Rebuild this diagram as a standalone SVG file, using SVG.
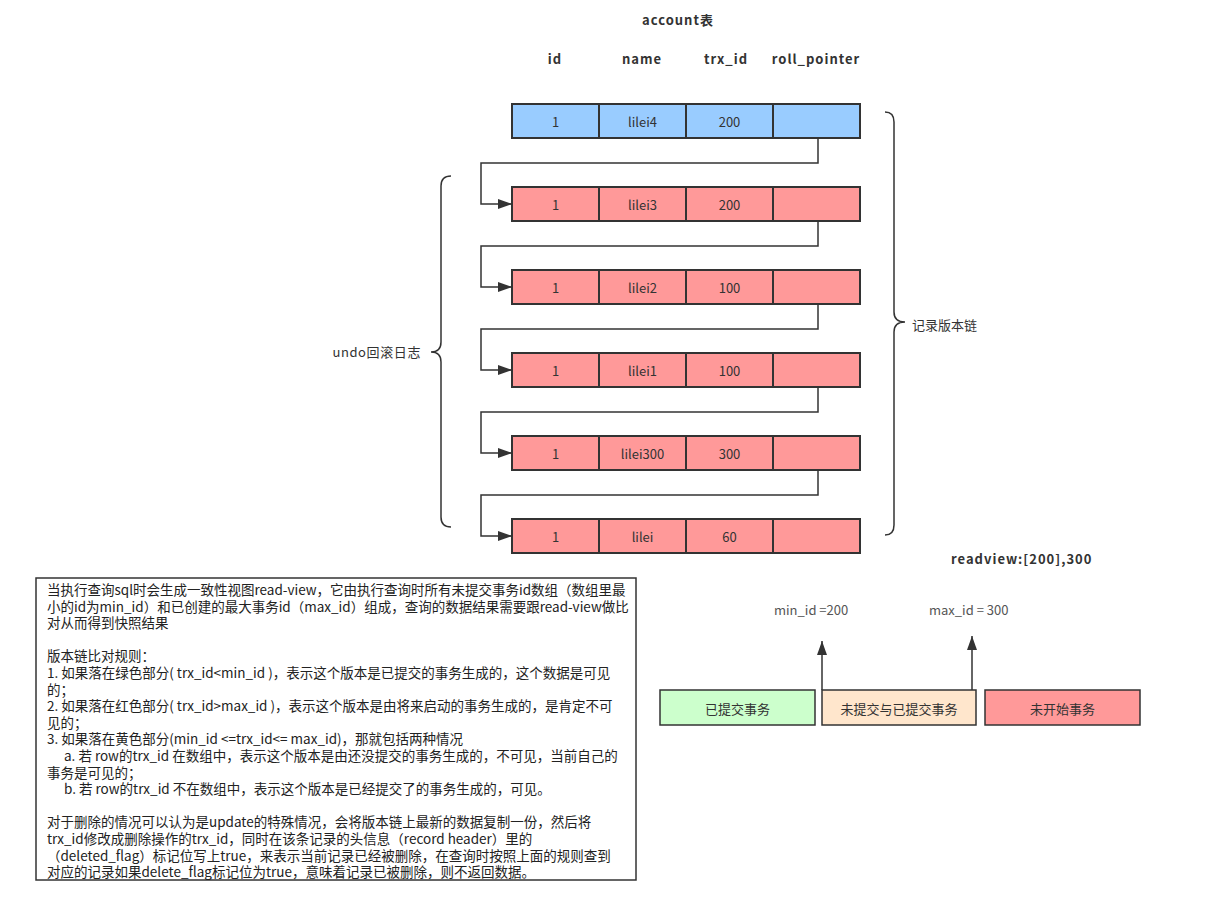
<svg xmlns="http://www.w3.org/2000/svg" width="1215" height="897" viewBox="0 0 1215 897">
<style>
.t{font-family:"Noto Sans CJK SC","Liberation Sans",sans-serif;font-size:13px;fill:#333;}
.c{text-anchor:middle;dominant-baseline:central;}
.b{font-weight:bold;letter-spacing:1px;}
.cell{stroke:#333;stroke-width:2;}
.blue{fill:#99ccff;}
.red{fill:#ff9999;}
.ln{fill:none;stroke:#333;stroke-width:1.5;}
.br{fill:none;stroke:#333;stroke-width:1.5;}
.note{font-size:13.5px;fill:#222;}
</style>
<defs>
<marker id="ah" viewBox="0 0 14 10" refX="14" refY="5" markerWidth="14" markerHeight="10" markerUnits="userSpaceOnUse" orient="auto">
<path d="M0,0 L14,5 L0,10 Z" fill="#333"/>
</marker>
</defs>
<rect width="1215" height="897" fill="#fff"/>

<g id="title">
<text class="t c b" x="678" y="19">account表</text>
<text class="t c b" x="555" y="58">id</text>
<text class="t c b" x="642" y="58">name</text>
<text class="t c b" x="726" y="58">trx_id</text>
<text class="t c b" x="816" y="58">roll_pointer</text>
</g>

<g id="row1">
<rect class="cell blue" x="512" y="104" width="87" height="34"/>
<rect class="cell blue" x="599" y="104" width="87" height="34"/>
<rect class="cell blue" x="686" y="104" width="87" height="34"/>
<rect class="cell blue" x="773" y="104" width="87" height="34"/>
<text class="t c" x="555.5" y="121">1</text>
<text class="t c" x="642.5" y="121">lilei4</text>
<text class="t c" x="729.5" y="121">200</text>
</g>
<g id="row2">
<rect class="cell red" x="512" y="187" width="87" height="34"/>
<rect class="cell red" x="599" y="187" width="87" height="34"/>
<rect class="cell red" x="686" y="187" width="87" height="34"/>
<rect class="cell red" x="773" y="187" width="87" height="34"/>
<text class="t c" x="555.5" y="204">1</text>
<text class="t c" x="642.5" y="204">lilei3</text>
<text class="t c" x="729.5" y="204">200</text>
</g>
<g id="row3">
<rect class="cell red" x="512" y="270" width="87" height="34"/>
<rect class="cell red" x="599" y="270" width="87" height="34"/>
<rect class="cell red" x="686" y="270" width="87" height="34"/>
<rect class="cell red" x="773" y="270" width="87" height="34"/>
<text class="t c" x="555.5" y="287">1</text>
<text class="t c" x="642.5" y="287">lilei2</text>
<text class="t c" x="729.5" y="287">100</text>
</g>
<g id="row4">
<rect class="cell red" x="512" y="353" width="87" height="34"/>
<rect class="cell red" x="599" y="353" width="87" height="34"/>
<rect class="cell red" x="686" y="353" width="87" height="34"/>
<rect class="cell red" x="773" y="353" width="87" height="34"/>
<text class="t c" x="555.5" y="370">1</text>
<text class="t c" x="642.5" y="370">lilei1</text>
<text class="t c" x="729.5" y="370">100</text>
</g>
<g id="row5">
<rect class="cell red" x="512" y="436" width="87" height="34"/>
<rect class="cell red" x="599" y="436" width="87" height="34"/>
<rect class="cell red" x="686" y="436" width="87" height="34"/>
<rect class="cell red" x="773" y="436" width="87" height="34"/>
<text class="t c" x="555.5" y="453">1</text>
<text class="t c" x="642.5" y="453">lilei300</text>
<text class="t c" x="729.5" y="453">300</text>
</g>
<g id="row6">
<rect class="cell red" x="512" y="519" width="87" height="34"/>
<rect class="cell red" x="599" y="519" width="87" height="34"/>
<rect class="cell red" x="686" y="519" width="87" height="34"/>
<rect class="cell red" x="773" y="519" width="87" height="34"/>
<text class="t c" x="555.5" y="536">1</text>
<text class="t c" x="642.5" y="536">lilei</text>
<text class="t c" x="729.5" y="536">60</text>
</g>

<g id="connectors">
<path class="ln" d="M818,138 V163 H481 V204 H512" marker-end="url(#ah)"/>
<path class="ln" d="M818,221 V246 H481 V287 H512" marker-end="url(#ah)"/>
<path class="ln" d="M818,304 V329 H481 V370 H512" marker-end="url(#ah)"/>
<path class="ln" d="M818,387 V412 H481 V453 H512" marker-end="url(#ah)"/>
<path class="ln" d="M818,470 V495 H481 V536 H512" marker-end="url(#ah)"/>
<path class="ln" d="M822,690 V641" marker-end="url(#ah)"/>
<path class="ln" d="M972,690 V636" marker-end="url(#ah)"/>
</g>

<g id="undo-brace">
<path class="br" d="M451,176 Q441,176 441,186 V342 Q441,352 431,352 Q441,352 441,362 V517 Q441,527 451,527"/>
<text class="t" x="421" y="357" text-anchor="end" style="letter-spacing:0.6px">undo回滚日志</text>
</g>

<g id="chain-brace">
<path class="br" d="M885,112 Q894,112 894,122 V312 Q894,322 905,322 Q894,322 894,332 V525 Q894,535 885,535"/>
<text class="t" x="912" y="330">记录版本链</text>
</g>

<g id="readview">
<text class="t b" x="951" y="564">readview:[200],300</text>
<text class="t" x="774" y="615" style="fill:#555">min_id =200</text>
<text class="t" x="929" y="615" style="fill:#555">max_id = 300</text>
</g>

<g id="committed">
<rect x="660" y="690" width="155" height="35" fill="#ccffcc" stroke="#333" stroke-width="1.5"/>
<text class="t c" x="737.5" y="708">已提交事务</text>
</g>
<g id="mixed">
<rect x="822" y="690" width="154" height="35" fill="#ffe6cc" stroke="#333" stroke-width="1.5"/>
<text class="t c" x="899" y="708">未提交与已提交事务</text>
</g>
<g id="notstarted">
<rect x="985" y="690" width="155" height="35" fill="#ff9999" stroke="#333" stroke-width="1.5"/>
<text class="t c" x="1062.5" y="708">未开始事务</text>
</g>

<g id="notes">
<rect x="36" y="578" width="600" height="302" fill="#fff" stroke="#333" stroke-width="1.5"/>
<text class="t note" x="47" y="595">
<tspan x="47" y="595">当执行查询sql时会生成一致性视图read-view，它由执行查询时所有未提交事务id数组（数组里最</tspan>
<tspan x="47" y="611.6">小的id为min_id）和已创建的最大事务id（max_id）组成，查询的数据结果需要跟read-view做比</tspan>
<tspan x="47" y="628.2">对从而得到快照结果</tspan>
<tspan x="47" y="661.4">版本链比对规则：</tspan>
<tspan x="47" y="678">1. 如果落在绿色部分( trx_id&lt;min_id )，表示这个版本是已提交的事务生成的，这个数据是可见</tspan>
<tspan x="47" y="694.6">的；</tspan>
<tspan x="47" y="711.2">2. 如果落在红色部分( trx_id&gt;max_id )，表示这个版本是由将来启动的事务生成的，是肯定不可</tspan>
<tspan x="47" y="727.8">见的；</tspan>
<tspan x="47" y="744.4">3. 如果落在黄色部分(min_id &lt;=trx_id&lt;= max_id)，那就包括两种情况</tspan>
<tspan x="64" y="761">a. 若 row的trx_id 在数组中，表示这个版本是由还没提交的事务生成的，不可见，当前自己的</tspan>
<tspan x="47" y="777.6">事务是可见的；</tspan>
<tspan x="64" y="794.2">b. 若 row的trx_id 不在数组中，表示这个版本是已经提交了的事务生成的，可见。</tspan>
<tspan x="47" y="827.4">对于删除的情况可以认为是update的特殊情况，会将版本链上最新的数据复制一份，然后将</tspan>
<tspan x="47" y="844">trx_id修改成删除操作的trx_id，同时在该条记录的头信息（record header）里的</tspan>
<tspan x="47" y="860.6">（deleted_flag）标记位写上true，来表示当前记录已经被删除，在查询时按照上面的规则查到</tspan>
<tspan x="47" y="877.2">对应的记录如果delete_flag标记位为true，意味着记录已被删除，则不返回数据。</tspan>
</text>
</g>
</svg>
